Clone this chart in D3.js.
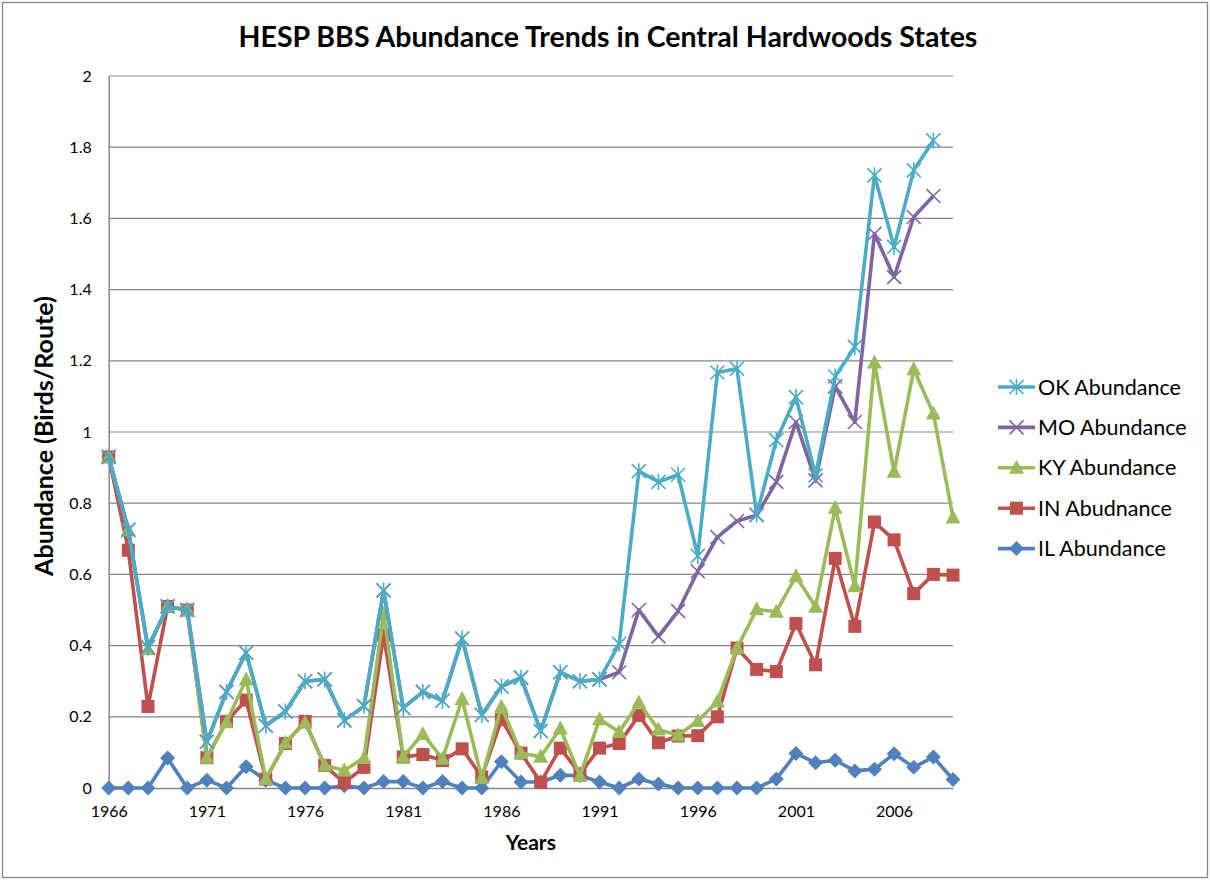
<!DOCTYPE html>
<html>
<head>
<meta charset="utf-8">
<script src="https://cdn.jsdelivr.net/npm/d3@7"></script>
<style>
  body { margin: 0; background: #fff; }
  svg { font-family: Lato, "Open Sans", sans-serif; }
  .grid line { stroke: #888; stroke-width: 1.2; }
  .axis path { stroke: #888; stroke-width: 1.5; }
</style>
</head>
<body>
<svg id="chart" width="1210" height="880"></svg>
<script>
const years = [1966, 1967, 1968, 1969, 1970, 1971, 1972, 1973, 1974, 1975,
  1976, 1977, 1978, 1979, 1980, 1981, 1982, 1983, 1984, 1985,
  1986, 1987, 1988, 1989, 1990, 1991, 1992, 1993, 1994, 1995,
  1996, 1997, 1998, 1999, 2000, 2001, 2002, 2003, 2004, 2005,
  2006, 2007, 2008, 2009];
const yearLabels = [1966, 1971, 1976, 1981, 1986, 1991, 1996, 2001, 2006];
const yTicks = [0, 0.2, 0.4, 0.6, 0.8, 1, 1.2, 1.4, 1.6, 1.8, 2];

const okValues = [0.93, 0.725, 0.395, 0.51, 0.50, 0.13, 0.27, 0.38, 0.175, 0.215,
  0.30, 0.305, 0.19, 0.23, 0.555, 0.225, 0.27, 0.245, 0.42, 0.205,
  0.285, 0.31, 0.16, 0.325, 0.30, 0.305, 0.405, 0.89, 0.86, 0.88,
  0.652, 1.167, 1.178, 0.768, 0.977, 1.098, 0.878, 1.156, 1.239, 1.721,
  1.52, 1.735, 1.819, null];
const moValues = [0.93, 0.725, 0.395, 0.51, 0.50, 0.13, 0.27, 0.38, 0.175, 0.215,
  0.30, 0.305, 0.19, 0.23, 0.555, 0.225, 0.27, 0.245, 0.42, 0.205,
  0.285, 0.31, 0.16, 0.325, 0.30, 0.305, 0.325, 0.50, 0.426, 0.497,
  0.609, 0.705, 0.75, 0.766, 0.86, 1.028, 0.864, 1.128, 1.028, 1.557,
  1.435, 1.604, 1.663, null];
const kyValues = [0.93, 0.724, 0.39, 0.51, 0.50, 0.085, 0.185, 0.305, 0.025, 0.127,
  0.183, 0.063, 0.05, 0.084, 0.49, 0.088, 0.152, 0.082, 0.25, 0.028,
  0.228, 0.098, 0.088, 0.167, 0.034, 0.193, 0.157, 0.24, 0.164, 0.148,
  0.188, 0.243, 0.393, 0.502, 0.495, 0.595, 0.509, 0.787, 0.567, 1.195,
  0.888, 1.176, 1.052, 0.76];
const inValues = [0.93, 0.668, 0.229, 0.51, 0.50, 0.085, 0.187, 0.247, 0.025, 0.125,
  0.187, 0.063, 0.015, 0.058, 0.43, 0.087, 0.094, 0.077, 0.11, 0.031,
  0.192, 0.098, 0.016, 0.112, 0.04, 0.112, 0.125, 0.204, 0.127, 0.146,
  0.147, 0.2, 0.393, 0.333, 0.327, 0.462, 0.346, 0.645, 0.454, 0.747,
  0.697, 0.546, 0.60, 0.598];
const ilValues = [0, 0, 0, 0.084, 0, 0.022, 0, 0.06, 0.022, 0,
  0, 0, 0.006, 0, 0.018, 0.018, 0, 0.018, 0, 0,
  0.074, 0.017, 0.017, 0.036, 0.035, 0.017, 0, 0.025, 0.011, 0,
  0, 0, 0, 0, 0.025, 0.097, 0.071, 0.078, 0.048, 0.053,
  0.096, 0.058, 0.087, 0.024];

const seriesNames = ["OK Abundance", "MO Abundance", "KY Abundance", "IN Abudnance", "IL Abundance"];
const seriesValues = [okValues, moValues, kyValues, inValues, ilValues];
const seriesColors = ["#4bacc6", "#8064a2", "#9bbb59", "#c0504d", "#4f81bd"];
const seriesMarkers = ["star", "x", "triangle", "square", "diamond"];

const svg = d3.select("#chart");
const width = +svg.attr("width");
const height = +svg.attr("height");
const margins = { top: 76, bottom: 92, left: 108.7, right: 257 };

svg.append("rect")
  .attr("x", 2.5).attr("y", 2.5)
  .attr("width", width - 5).attr("height", height - 5)
  .attr("fill", "#fff").attr("stroke", "#888").attr("stroke-width", 1.3);

const x = d3.scalePoint(years, [margins.left, width - margins.right]);
const y = d3.scaleLinear([0, 2], [height - margins.bottom, margins.top]);

svg.append("g")
  .attr("class", "grid")
  .selectAll("line")
  .data(yTicks.slice(1))
  .join("line")
  .attr("x1", margins.left).attr("x2", width - margins.right)
  .attr("y1", (d) => y(d)).attr("y2", (d) => y(d));

svg.append("g")
  .attr("class", "axis")
  .attr("transform", "translate(" + margins.left + ",0)")
  .call(d3.axisLeft(y).tickValues(yTicks).tickSize(0).tickPadding(17)
    .tickFormat((d) => String(+d.toFixed(1))))
  .attr("font-size", 16)
  .attr("font-family", "Lato, 'Open Sans', sans-serif");

svg.append("g")
  .attr("class", "axis")
  .attr("transform", "translate(0," + y(0) + ")")
  .call(d3.axisBottom(x).tickValues(yearLabels).tickSize(0).tickPadding(18))
  .attr("font-size", 16)
  .attr("font-family", "Lato, 'Open Sans', sans-serif");

svg.selectAll(".axis .domain").attr("stroke", "#888");

const line = d3.line()
  .defined((d) => d.v != null)
  .x((d) => x(d.year))
  .y((d) => y(d.v));

function drawMarker(g, type, color) {
  if (type === "star") {
    g.append("path")
      .attr("d", "M-7,-7L7,7M-7,7L7,-7M0,-8L0,8")
      .attr("stroke", color).attr("stroke-width", 1.6).attr("fill", "none");
  } else if (type === "x") {
    g.append("path")
      .attr("d", "M-7,-7L7,7M-7,7L7,-7")
      .attr("stroke", color).attr("stroke-width", 1.6).attr("fill", "none");
  } else if (type === "triangle") {
    g.append("path").attr("d", "M0,-8L7.5,6L-7.5,6Z").attr("fill", color);
  } else if (type === "square") {
    g.append("rect").attr("x", -6.5).attr("y", -6.5).attr("width", 13).attr("height", 13).attr("fill", color);
  } else if (type === "diamond") {
    g.append("path").attr("d", "M0,-7.5L7.5,0L0,7.5L-7.5,0Z").attr("fill", color);
  }
}

// draw IL first so OK ends up on top
const plot = svg.append("g");
d3.range(seriesNames.length).reverse().forEach((i) => {
  const data = years.map((year, j) => ({ year: year, v: seriesValues[i][j] }));
  const g = plot.append("g");
  g.append("path")
    .datum(data)
    .attr("d", line)
    .attr("fill", "none")
    .attr("stroke", seriesColors[i])
    .attr("stroke-width", 3.6)
    .attr("stroke-linejoin", "round");
  g.selectAll("g.pt")
    .data(data.filter((d) => d.v != null))
    .join("g")
    .attr("class", "pt")
    .attr("transform", (d) => "translate(" + x(d.year) + "," + y(d.v) + ")")
    .each(function () { drawMarker(d3.select(this), seriesMarkers[i], seriesColors[i]); });
});

// legend
const legend = svg.append("g");
seriesNames.forEach((name, i) => {
  const ly = 387 + i * 40.4;
  const item = legend.append("g").attr("transform", "translate(998," + ly + ")");
  item.append("line")
    .attr("x1", 0).attr("x2", 37)
    .attr("stroke", seriesColors[i]).attr("stroke-width", 3.6);
  drawMarker(item.append("g").attr("transform", "translate(18.5,0)"), seriesMarkers[i], seriesColors[i]);
  item.append("text")
    .attr("x", 40).attr("y", 7.5)
    .attr("font-size", "21.5px")
    .text(name);
});

svg.append("text")
  .attr("x", 608).attr("y", 47)
  .attr("text-anchor", "middle")
  .attr("font-size", "28.5px").attr("font-weight", "bold")
  .text("HESP BBS Abundance Trends in Central Hardwoods States");

svg.append("text")
  .attr("transform", "translate(53,436) rotate(-90)")
  .attr("text-anchor", "middle")
  .attr("font-size", "25px").attr("font-weight", "bold")
  .text("Abundance (Birds/Route)");

svg.append("text")
  .attr("x", (margins.left + width - margins.right) / 2).attr("y", 850)
  .attr("text-anchor", "middle")
  .attr("font-size", "21px").attr("font-weight", "bold")
  .text("Years");
</script>
</body>
</html>
